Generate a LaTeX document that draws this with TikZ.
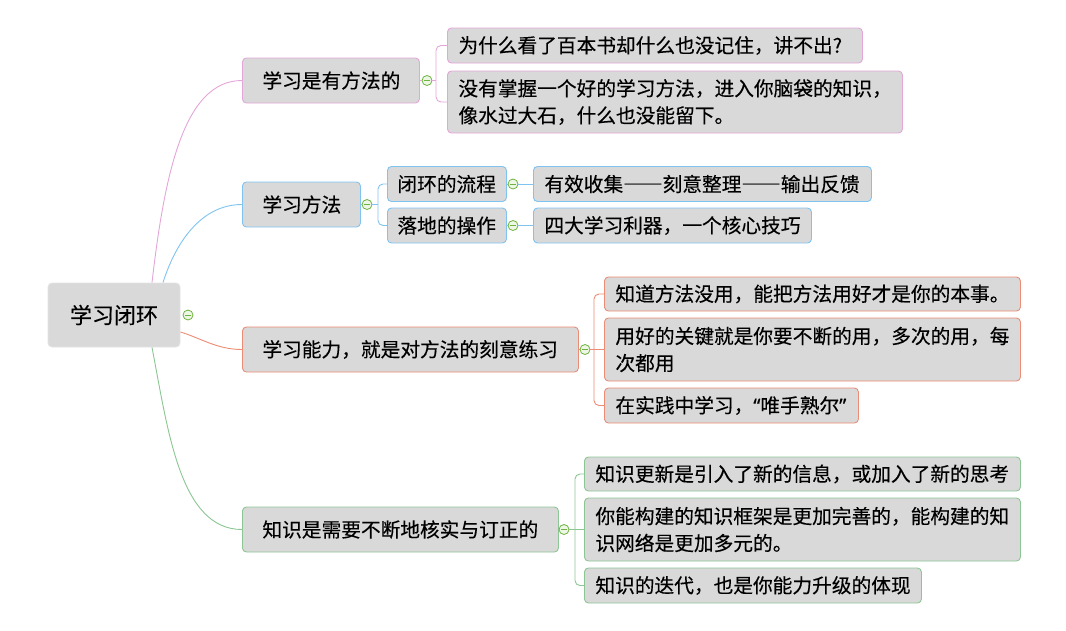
\documentclass[tikz,border=0pt]{standalone}
\usepackage{fontspec}
\setmainfont{Noto Sans CJK SC}[FakeBold=0.3]
\newfontfamily\quotefont{Noto Sans}[FakeBold=0.3]
\newcommand{\myquoted}[1]{{\quotefont “}#1{\quotefont ”}}
\newcommand{\dashpair}{{\addfontfeature{RawFeature=+fwid}——}}
\definecolor{boxfill}{HTML}{D9D9D9}
\definecolor{rootline}{HTML}{E4E4E4}
\definecolor{cpink}{HTML}{E4A6D8}
\definecolor{cblue}{HTML}{7FC3F1}
\definecolor{corange}{HTML}{EC8C74}
\definecolor{cgreen}{HTML}{8BC693}
\definecolor{foldgreen}{HTML}{6DB33F}
\definecolor{foldfill}{HTML}{EEF7E6}
\tikzset{
  box/.style={draw, fill=boxfill, rounded corners=4pt, line width=0.9pt, inner ysep=0pt,
    anchor=west, align=left, font=\fontsize{19.7}{27}\selectfont},
  branch/.style={box, inner xsep=20pt, minimum height=45pt},
  leaf/.style={box, inner xsep=11pt, minimum height=35pt},
  leaftwo/.style={box, inner xsep=11pt, minimum height=63pt},
  fold/.style={circle, draw=foldgreen, fill=foldfill, line width=0.8pt, minimum size=10pt, inner sep=0pt,
    path picture={\draw[foldgreen, line width=0.9pt] ([xshift=-3pt]path picture bounding box.center) -- ([xshift=3pt]path picture bounding box.center);}},
  link/.style={line width=0.9pt},
  tree/.style={line width=0.9pt, rounded corners=5pt},
}
\begin{document}
\begin{tikzpicture}[x=1pt, y=-1pt]
\useasboundingbox (0,0) rectangle (1066,630);

% root
\node[draw=rootline, fill=boxfill, rounded corners=4pt, line width=0.9pt, minimum width=132pt, minimum height=64pt,
  inner sep=0pt, font=\fontsize{22}{26}\selectfont] (root) at (114,315) {学习闭环};
\node[fold] (f0) at (188,315) {};

% branch 1
\node[branch, draw=cpink, text width=137pt] (b1) at (242,80.5) {学习是有方法的};
\node[fold] (f1) at (427,80.5) {};
\node[leaf, draw=cpink, text width=393pt] (c11) at (447,45.5) {为什么看了百本书却什么也没记住，讲不出?};
\node[leaftwo, minimum height=62pt, draw=cpink, text width=433pt] (c12) at (447,102) {没有掌握一个好的学习方法，进入你脑袋的知识，\\像水过大石，什么也没能留下。};
\coordinate (k1) at (436,80.5);

% branch 2
\node[branch, draw=cblue, text width=78pt] (b2) at (242,204.5) {学习方法};
\node[fold] (f2) at (367,204.5) {};
\node[leaf, draw=cblue, inner xsep=10pt, text width=99pt] (c21) at (387,184) {闭环的流程};
\node[leaf, draw=cblue, inner xsep=10pt, text width=99pt] (c22) at (387,225.5) {落地的操作};
\node[fold] (f21) at (513,184) {};
\node[fold] (f22) at (513,225.5) {};
\node[leaf, draw=cblue, text width=316pt] (d21) at (533,184) {有效收集\dashpair 刻意整理\dashpair 输出反馈};
\node[leaf, draw=cblue, text width=256pt] (d22) at (533,225.5) {四大学习利器，一个核心技巧};
\coordinate (k2) at (378,204.5);

% branch 3
\node[branch, draw=corange, text width=296pt] (b3) at (242,349.5) {学习能力，就是对方法的刻意练习};
\node[fold] (f3) at (585,349.5) {};
\node[leaf, minimum height=34pt, draw=corange, text width=394pt] (c31) at (604,294) {知道方法没用，能把方法用好才是你的本事。};
\node[leaftwo, draw=corange, text width=394pt] (c32) at (604,349.5) {用好的关键就是你要不断的用，多次的用，每\\次都用};
\node[leaf, draw=corange, text width=232pt] (c33) at (604,405.5) {在实践中学习，\myquoted{唯手熟尔}};
\coordinate (k3) at (594,349.5);

% branch 4
\node[branch, draw=cgreen, text width=276pt] (b4) at (242,529.5) {知识是需要不断地核实与订正的};
\node[fold] (f4) at (564,529.5) {};
\node[leaf, minimum height=34pt, draw=cgreen, text width=414pt] (c41) at (584,474) {知识更新是引入了新的信息，或加入了新的思考};
\node[leaftwo, draw=cgreen, text width=414pt] (c42) at (584,529.5) {你能构建的知识框架是更加完善的，能构建的知\\识网络是更加多元的。};
\node[leaf, draw=cgreen, text width=315pt] (c43) at (584,585.5) {知识的迭代，也是你能力升级的体现};
\coordinate (k4) at (575,529.5);

% root connectors
\draw[link, cpink] ([xshift=38pt]root.north) .. controls +(13,-113) and +(-57,0) .. (b1.west);
\draw[link, cblue] ([xshift=49pt]root.north) .. controls +(12,-38) and +(-42,0) .. (b2.west);
\draw[link, corange] ([yshift=-17pt]root.east) .. controls +(20,6) and +(-25,0) .. (b3.west);
\draw[link, cgreen] ([xshift=38pt]root.south) .. controls +(16,83) and +(-62,0) .. (b4.west);

% branch 1 tree
\draw[link, cpink] (b1.east) -- (f1.west);
\draw[link, cpink] (f1.east) -- (k1);
\draw[tree, cpink] (k1) |- (c11.west);
\draw[tree, cpink] (k1) |- (c12.west);

% branch 2 tree
\draw[link, cblue] (b2.east) -- (f2.west);
\draw[link, cblue] (f2.east) -- (k2);
\draw[tree, cblue] (k2) |- (c21.west);
\draw[tree, cblue] (k2) |- (c22.west);
\draw[link, cblue] (c21.east) -- (f21.west);
\draw[link, cblue] (c22.east) -- (f22.west);
\draw[link, cblue] (f21.east) -- (d21.west);
\draw[link, cblue] (f22.east) -- (d22.west);

% branch 3 tree
\draw[link, corange] (b3.east) -- (f3.west);
\draw[link, corange] (f3.east) -- (k3);
\draw[tree, corange] (k3) |- (c31.west);
\draw[tree, corange] (k3) -- (c32.west);
\draw[tree, corange] (k3) |- (c33.west);

% branch 4 tree
\draw[link, cgreen] (b4.east) -- (f4.west);
\draw[link, cgreen] (f4.east) -- (k4);
\draw[tree, cgreen] (k4) |- (c41.west);
\draw[tree, cgreen] (k4) -- (c42.west);
\draw[tree, cgreen] (k4) |- (c43.west);
\end{tikzpicture}
\end{document}
